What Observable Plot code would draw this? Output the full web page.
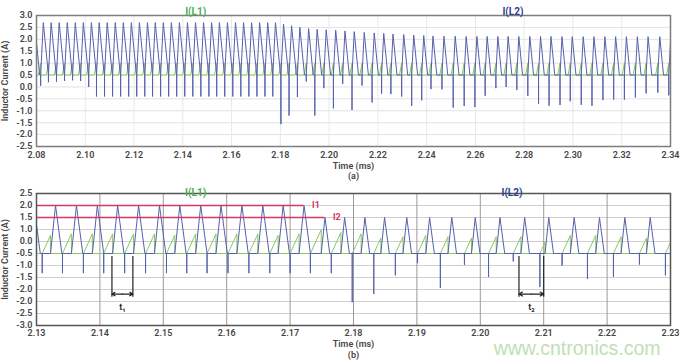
<!DOCTYPE html>
<html><head><meta charset="utf-8">
<script src="https://cdn.jsdelivr.net/npm/d3@7"></script>
<script src="https://cdn.jsdelivr.net/npm/@observablehq/plot@0.6"></script>
<style>
body{margin:0;background:#fff;}
#chart{width:680px;}
svg{display:block;}
</style></head><body><div id="chart"></div>
<script>
// ---------------- Panel (a) data ----------------
const aXTicks = [2.08,2.10,2.12,2.14,2.16,2.18,2.20,2.22,2.24,2.26,2.28,2.30,2.32,2.34];
const aXLabels = ["2.08","2.10","2.12","2.14","2.16","2.18","2.20","2.22","2.24","2.26","2.28","2.30","2.32","2.34"];
const aYTicks = [3.0,2.5,2.0,1.5,1.0,0.5,0.0,-0.5,-1.0,-1.5,-2.0,-2.5];
const aYLabels = ["3.0","2.5","2.0","1.5","1.0","0.5","0.0","-0.5","-1.0","-1.5","-2.0","-2.5"];
const aBase = 0.5;        // I(L2) valley / I(L1) idle level
const aGreenTop = 1.0;    // I(L1) hump height
const aPeakTimes = [2.0792,
 2.0828,2.0860,2.0893,2.0926,2.0959,2.0992,2.1025,2.1057,2.1090,2.1123,
 2.1156,2.1189,2.1222,2.1255,2.1287,2.1320,2.1353,2.1386,2.1419,2.1452,
 2.1485,2.1518,2.1550,2.1583,2.1616,2.1649,2.1682,2.1715,2.1748,2.1780,
 2.1813,2.1846,2.1880,2.1916,2.1951,2.1988,2.2027,2.2065,2.2103,2.2144,
 2.2185,2.2224,2.2262,2.2306,2.2347,2.2388,2.2426,2.2471,2.2517,2.2562,
 2.2606,2.2648,2.2692,2.2734,2.2778,2.2823,2.2867,2.2910,2.2955,2.2997,
 2.3042,2.3086,2.3131,2.3175,2.3219,2.3264,2.3308,2.3356,2.3401];
const aPeakValues = [2.7,
 2.7,2.7,2.7,2.7,2.7,2.7,2.7,2.7,2.7,2.7,
 2.7,2.7,2.7,2.7,2.7,2.7,2.7,2.7,2.7,2.7,
 2.7,2.7,2.7,2.7,2.7,2.7,2.7,2.7,2.7,2.7,
 2.64,2.57,2.5,2.45,2.42,2.4,2.38,2.35,2.32,2.29,
 2.27,2.25,2.22,2.2,2.18,2.16,2.14,2.13,2.13,2.12,
 2.12,2.12,2.12,2.12,2.12,2.12,2.12,2.12,2.11,2.11,
 2.11,2.11,2.11,2.11,2.11,2.11,2.11,2.11,2.11];
const aSpikeValues = [0.1,
 0.05,0.2,0.22,0.25,0.28,0.25,0.0,-0.4,-0.4,-0.4,
 -0.4,-0.4,-0.4,-0.4,-0.4,-0.4,-0.4,-0.4,-0.4,-0.4,
 -0.4,-0.4,-0.4,-0.4,-0.4,-0.4,-0.4,-0.4,-0.4,-0.4,
 -1.56,-1.2,-0.42,0.23,-1.2,-0.05,-0.9,0.13,-0.97,0.06,
 -0.65,-0.28,-0.3,-0.4,-0.8,-0.56,-0.09,-0.1,-0.87,-0.8,
 -0.84,-0.37,-0.05,0.0,-0.13,-0.37,-0.72,-0.79,-0.76,-0.6,
 -0.75,-0.79,-0.55,-0.53,-0.53,-0.44,-0.27,-0.24,-0.35];
const aRiseSlope = 2000, aFallSlope = 1050, aGreenRamp = 0.0009; // A/ms, A/ms, ms

// ---------------- Panel (b) data ----------------
const bXTicks = [2.13,2.14,2.15,2.16,2.17,2.18,2.19,2.20,2.21,2.22,2.23];
const bXLabels = ["2.13","2.14","2.15","2.16","2.17","2.18","2.19","2.20","2.21","2.22","2.23"];
const bYTicks = [2.5,2.0,1.5,1.0,0.5,0.0,-0.5,-1.0,-1.5,-2.0,-2.5,-3.0];
const bYLabels = ["2.5","2.0","1.5","1.0","0.0","-0.5","-1.0","-1.5","-2.0","-2.0","-2.5","-3.0"];
const bBase = 0.0;
const bPeakTimes = [2.1296,2.1330,2.1363,2.1396,2.1428,2.1461,2.1494,2.1526,2.1559,2.1591,
 2.1624,2.1657,2.1689,2.1722,2.1755,2.1786,2.1818,2.1849,2.1884,2.1920,
 2.1955,2.1992,2.2031,2.2070,2.2108,2.2148,2.2188,2.2228,2.2268,2.2309];
const bPeakValues = [2.0,2.0,2.0,2.0,2.0,2.0,2.0,2.0,2.0,2.0,
 2.0,2.0,2.0,2.0,1.5,1.5,1.5,1.5,1.5,1.5,
 1.5,1.5,1.5,1.5,1.5,1.5,1.5,1.5,1.5,1.5];
const bSpikeTimes = [2.1309,2.1341,2.1374,2.1406,2.1439,2.1472,2.1505,2.1537,2.1569,2.1602,
 2.1635,2.1668,2.1700,2.1732,2.1765,2.1798,2.1832,2.1866,2.1901,2.1937,
 2.1975,2.2013,2.2052,2.2094,2.2129,2.2169,2.2210,2.2251,2.2292];
const bSpikeValues = [-0.82,-0.82,-0.82,-0.82,-0.82,-0.82,-0.82,-0.82,-0.82,-0.82,
 -0.82,-0.82,-0.82,-0.82,-0.82,-2.03,-1.68,-0.91,-0.4,-1.44,
 -0.47,-0.98,-0.33,-1.4,-0.5,-1.06,-0.98,-0.46,-0.91];
const bRiseSlope = 2530, bFallSlope = 2000, bGreenSlope = 580; // A/ms
const refNames = ["I1","I2"];
const refLevels = [2.0, 1.5];
const refEnds = [2.1722, 2.1755];
const markNames = ["t\u2081","t\u2082"];
const markStarts = [2.1419, 2.2061];
const markEnds = [2.1452, 2.2100];

const seriesNames = ["I(L1)","I(L2)"];
const BLUE = "#5561ad", GREEN = "#8cc860", RED = "#d63a62";
const GREEN_T = "#4bb04f", BLUE_T = "#2f3f8c";

// ---------- build waveform vertices from the per-cycle readings ----------
function buildA() {
  const blue = [], green = [{t: 2.07, v: aBase}];
  aPeakTimes.forEach((p, i) => {
    const h = aPeakValues[i];
    const r = p - (h - aBase) / aRiseSlope;
    const f = p + (h - aBase) / aFallSlope;
    green.push({t: r - aGreenRamp, v: aBase}, {t: r, v: aGreenTop}, {t: r, v: aBase});
    blue.push({t: r, v: aBase}, {t: r, v: aSpikeValues[i]}, {t: r, v: aBase}, {t: p, v: h}, {t: f, v: aBase});
  });
  blue.push({t: 2.35, v: aBase});
  green.push({t: 2.35, v: aBase});
  return {blue, green};
}
function buildB() {
  const tri = bPeakTimes.map((p, i) => {
    const h = bPeakValues[i];
    return {r: p - (h - bBase) / bRiseSlope, p, h, f: p + (h - bBase) / bFallSlope};
  });
  const blue = [{t: 2.12, v: bBase}], green = [{t: 2.12, v: bBase}];
  tri.forEach((c, i) => {
    blue.push({t: c.r, v: bBase}, {t: c.p, v: c.h}, {t: c.f, v: bBase});
    const next = tri[i + 1];
    bSpikeTimes.forEach((s, j) => {
      if (s >= c.p && (!next || s < next.p)) {
        const st = Math.max(s, c.f);
        blue.push({t: st, v: bBase}, {t: st, v: bSpikeValues[j]}, {t: st, v: bBase});
        if (next) {
          green.push({t: st, v: bBase}, {t: next.r, v: bBase + bGreenSlope * (next.r - st)}, {t: next.r, v: bBase});
        }
      }
    });
  });
  blue.push({t: 2.24, v: bBase});
  green.push({t: 2.24, v: bBase});
  return {blue, green};
}
const A = buildA(), B = buildB();

const style = {fontFamily: "Roboto, 'Open Sans', sans-serif", fontSize: "9px", fontWeight: "600", color: "#454545", background: "#fff", overflow: "visible"};
const labelMap = (ticks, labels) => new Map(ticks.map((t, i) => [t, labels[i]]));
const aXL = labelMap(aXTicks, aXLabels), aYL = labelMap(aYTicks, aYLabels);
const bXL = labelMap(bXTicks, bXLabels), bYL = labelMap(bYTicks, bYLabels);

const plotA = Plot.plot({
  width: 680, height: 182,
  marginLeft: 36, marginRight: 10, marginTop: 15, marginBottom: 36,
  style,
  x: {domain: [2.08, 2.34]},
  y: {domain: [-2.5, 3.0]},
  marks: [
    Plot.gridY(aYTicks, {stroke: "#e2e2e2", strokeOpacity: 1}),
    Plot.gridX(aXTicks, {stroke: "#e8e8e8", strokeOpacity: 1}),
    Plot.line(A.green, {x: "t", y: "v", stroke: GREEN, strokeWidth: 1, clip: true}),
    Plot.line(A.blue, {x: "t", y: "v", stroke: BLUE, strokeWidth: 1, clip: true}),
    Plot.frame({stroke: "#7d7d7d", strokeWidth: 1.5}),
    Plot.axisX(aXTicks, {tickSize: 0, tickPadding: 5, tickFormat: d => aXL.get(d), label: "Time (ms)", labelAnchor: "center", labelOffset: 22.5, labelArrow: "none"}),
    Plot.axisY(aYTicks, {tickSize: 0, tickPadding: 4, tickFormat: d => aYL.get(d), label: "Inductor Current (A)", labelAnchor: "center", labelOffset: 35, labelArrow: "none"}),
    Plot.text(["(a)"], {frameAnchor: "bottom", dy: 32, fontSize: 9}),
    Plot.text([seriesNames[0]], {x: 2.1453, frameAnchor: "top", dy: -7.5, fill: GREEN_T, fontWeight: 700, fontSize: 10}),
    Plot.text([seriesNames[1]], {x: 2.2754, frameAnchor: "top", dy: -7.5, fill: BLUE_T, fontWeight: 700, fontSize: 10})
  ]
});

const plotB = Plot.plot({
  width: 680, height: 182,
  marginLeft: 36, marginRight: 10, marginTop: 11, marginBottom: 39,
  style,
  x: {domain: [2.13, 2.23]},
  y: {domain: [-3.0, 2.5]},
  marks: [
    Plot.gridY(bYTicks, {stroke: "#cfcfcf", strokeOpacity: 1}),
    Plot.gridX(bXTicks, {stroke: "#9a9a9a", strokeOpacity: 1}),
    Plot.line(B.green, {x: "t", y: "v", stroke: GREEN, strokeWidth: 1, clip: true}),
    Plot.line(B.blue, {x: "t", y: "v", stroke: BLUE, strokeWidth: 1, clip: true}),
    Plot.ruleY(refLevels, {x1: 2.13, x2: (d, i) => refEnds[i], stroke: RED, strokeWidth: 1.6}),
    Plot.text(refNames, {x: (d, i) => refEnds[i], y: (d, i) => refLevels[i], dx: 8, textAnchor: "start", fill: RED, fontWeight: 700, fontSize: 9}),
    Plot.ruleX(markStarts, {y1: -0.12, y2: -1.82, stroke: "#222", strokeWidth: 1.2}),
    Plot.ruleX(markEnds, {y1: -0.12, y2: -1.82, stroke: "#222", strokeWidth: 1.2}),
    Plot.arrow(markStarts, {x1: (d, i) => (d + markEnds[i]) / 2, x2: d => d, y1: -1.69, y2: -1.69, stroke: "#222", strokeWidth: 1.2, headLength: 5}),
    Plot.arrow(markEnds, {x1: (d, i) => (d + markStarts[i]) / 2, x2: d => d, y1: -1.69, y2: -1.69, stroke: "#222", strokeWidth: 1.2, headLength: 5}),
    Plot.text(markNames, {x: (d, i) => (markStarts[i] + markEnds[i]) / 2, y: -2.24, fill: "#222", fontSize: 9}),
    Plot.frame({stroke: "#555", strokeWidth: 1.5}),
    Plot.axisX(bXTicks, {tickSize: 0, tickPadding: 4, tickFormat: d => bXL.get(d), label: "Time (ms)", labelAnchor: "center", labelOffset: 21.5, labelArrow: "none"}),
    Plot.axisY(bYTicks, {tickSize: 0, tickPadding: 4, tickFormat: d => bYL.get(d), label: "Inductor Current (A)", labelAnchor: "center", labelOffset: 35, labelArrow: "none"}),
    Plot.text(["(b)"], {frameAnchor: "bottom", dy: 32.5, fontSize: 9}),
    Plot.text([seriesNames[0]], {x: 2.1551, frameAnchor: "top", dy: -5, fill: GREEN_T, fontWeight: 700, fontSize: 10}),
    Plot.text([seriesNames[1]], {x: 2.2050, frameAnchor: "top", dy: -5, fill: BLUE_T, fontWeight: 700, fontSize: 10}),
    Plot.text(["www.cntronics.com"], {frameAnchor: "bottom-right", dx: -10, dy: 29, textAnchor: "end", fill: "#bfe0b6", fontSize: 19.5, fontWeight: 400, fontFamily: "'Liberation Sans', Arial, sans-serif"})
  ]
});

document.getElementById("chart").append(plotA, plotB);
</script></body></html>
